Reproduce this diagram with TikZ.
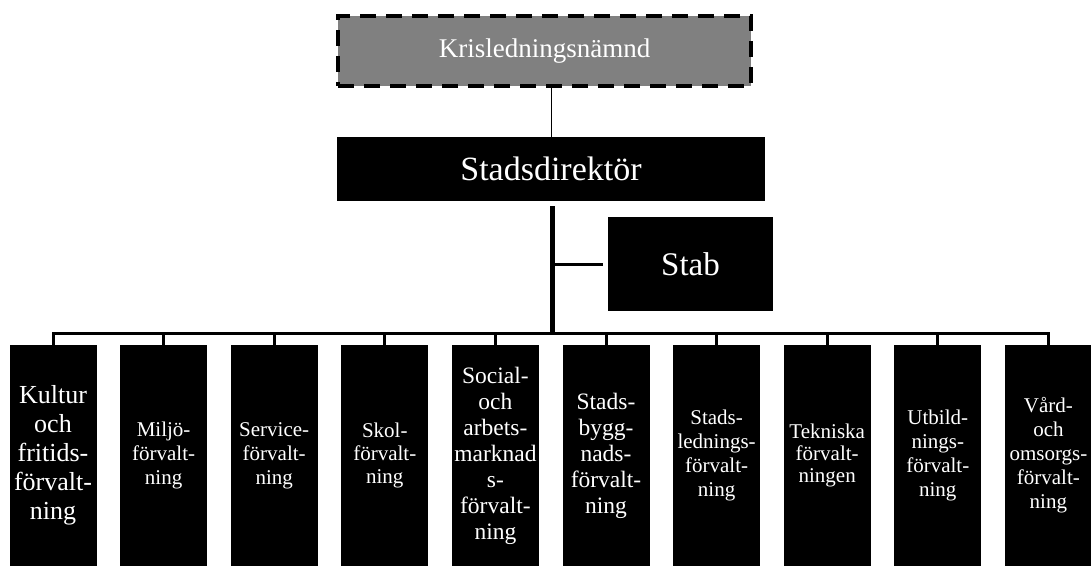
\documentclass[tikz,border=0pt]{standalone}
\usepackage{fontspec}
\setmainfont{Liberation Serif}
\begin{document}
\begin{tikzpicture}[x=1pt,y=-1pt,
  blk/.style={fill=black,text=white,inner sep=0pt,align=center,minimum width=87pt,minimum height=221pt,text width=87pt},
  fs/.style={font=\fontsize{21}{24}\selectfont},
  bus/.style={line width=3pt,line join=miter,line cap=butt}]
\useasboundingbox (0,0) rectangle (1091,567);
\node[fill=black!50,draw=black,line width=4pt,dash pattern=on 16pt off 10pt,minimum width=413pt,minimum height=70pt,inner sep=0pt,text=white,font=\fontsize{27}{30}\selectfont] (kris) at (544.5,51) {Krisledningsnämnd};
\node[fill=black,text=white,minimum width=428pt,minimum height=64pt,inner sep=0pt,font=\fontsize{34}{40}\selectfont] (dir) at (551,169) {Stadsdirektör};
\node[fill=black,text=white,minimum width=165pt,minimum height=94pt,inner sep=0pt,font=\fontsize{33}{40}\selectfont] (stab) at (690.5,264) {Stab};
\node[blk,font=\fontsize{26}{29}\selectfont] (b1) at (53,455.5) {Kultur\\och\\fritids-\\förvalt-\\ning};
\node[blk,fs] (b2) at (163.6,455.5) {Miljö-\\förvalt-\\ning};
\node[blk,fs] (b3) at (274.2,455.5) {Service-\\förvalt-\\ning};
\node[blk,font=\fontsize{21}{23}\selectfont] (b4) at (384.8,455.5) {Skol-\\förvalt-\\ning};
\node[blk,font=\fontsize{23.5}{26}\selectfont] (b5) at (495.4,455.5) {Social-\\och\\arbets-\\marknad\\s-\\förvalt-\\ning};
\node[blk,font=\fontsize{23.5}{26}\selectfont] (b6) at (606,455.5) {Stads-\\bygg-\\nads-\\förvalt-\\ning};
\node[blk,fs] (b7) at (716.6,455.5) {Stads-\\lednings-\\förvalt-\\ning};
\node[blk,font=\fontsize{21}{22}\selectfont] (b8) at (827.2,455.5) {Tekniska\\förvalt-\\ningen};
\node[blk,fs] (b9) at (937.8,455.5) {Utbild-\\nings-\\förvalt-\\ning};
\node[blk,fs] (b10) at (1048.4,455.5) {Vård-\\och\\omsorgs-\\förvalt-\\ning};
% connectors
\draw[line width=1pt] (dir.north |- kris.south) -- (dir.north);
\coordinate (top) at ([yshift=-5pt]dir.south);
\coordinate (busc) at (552,333);
\draw[line width=5pt] (top -| busc) -- (busc);
\draw[bus] (busc |- stab.west) -- ([xshift=-5pt]stab.west);
\draw[bus] ([yshift=-6pt]b1.north) |- (busc) -| ([yshift=-6pt]b10.north);
\foreach \b in {b2,b3,b4,b5,b6,b7,b8,b9}
  \draw[bus] (\b.north |- busc) -- ([yshift=-6pt]\b.north);
\end{tikzpicture}
\end{document}
